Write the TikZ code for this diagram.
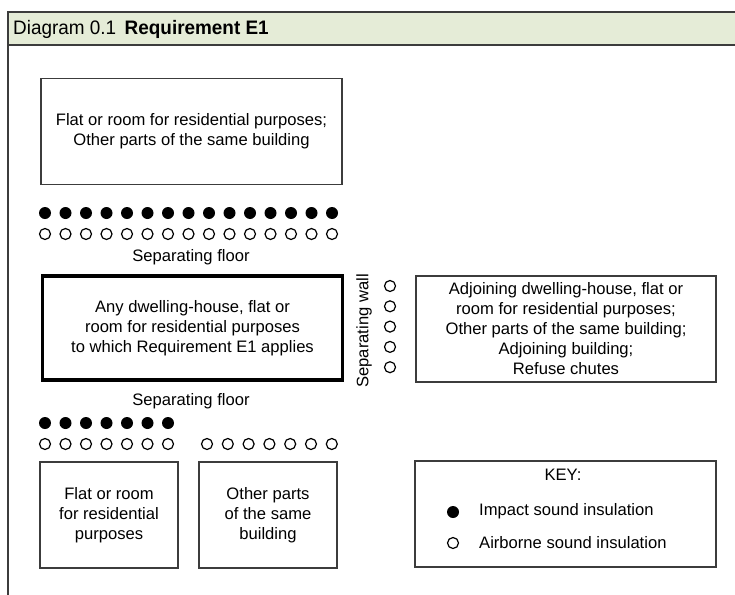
\documentclass[tikz,border=0pt]{standalone}
\usepackage{fontspec}
\setmainfont{Liberation Sans}
\definecolor{bandfill}{RGB}{229,236,215}
\definecolor{rule}{RGB}{60,60,60}
\begin{document}
\begin{tikzpicture}[x=1pt,y=-1pt,
  txt/.style={font=\fontsize{16.6}{20}\selectfont, align=center, inner sep=0pt},
  room/.style={txt, draw=rule, line width=1.4pt, minimum width=#1, minimum height=106pt},
  mainroom/.style={txt, draw=black, line width=3.6pt, minimum width=300pt, minimum height=104pt},
  impact/.style={circle, fill=black, inner sep=0pt, minimum size=12pt},
  airborne/.style={circle, draw=black, line width=1.2pt, fill=white, inner sep=0pt, minimum size=11pt}
]
\useasboundingbox (0,0) rectangle (735,594);

% title band and frame
\fill[white] (0,0) rectangle (735,594);
\draw[rule, line width=1.3pt, fill=bandfill] (8,12) rectangle (745,45);
\draw[rule, line width=1.3pt] (8,45) -- (8,600);
\node[anchor=west, inner sep=0pt, xscale=0.97, font=\fontsize{19.5}{22}\selectfont] (title) at (13,29)
  {Diagram 0.1\hspace{0.45em}\textbf{Requirement E1}};

% rooms
\node[room=301pt] (upper) at (191.5,131.5)
  {Flat or room for residential purposes;\\Other parts of the same building};
\node[mainroom] (main) at (192.5,328)
  {Any dwelling-house, flat or\\room for residential purposes\\to which Requirement E1 applies};
\node[room=300pt] (adjoin) at (566,329)
  {Adjoining dwelling-house, flat or\\room for residential purposes;\\Other parts of the same building;\\Adjoining building;\\Refuse chutes};
\node[room=138pt] (lowflat) at (109,515)
  {Flat or room\\for residential\\purposes};
\node[room=138pt] (lowother) at (268,515)
  {Other parts\\of the same\\building};

% separating floor above
\foreach \i in {0,...,14} {
  \node[impact] (ti\i) at (45+20.5*\i,213) {};
  \node[airborne] (ta\i) at (45+20.5*\i,234) {};
}
\node[txt] (floorA) at (191,257) {Separating floor};

% separating wall
\node[txt, rotate=90] (wall) at (364,331) {Separating wall};
\foreach \i in {0,...,4} {
  \node[airborne] (wa\i) at (390,286+20.3*\i) {};
}

% separating floor below
\node[txt] (floorB) at (191,401) {Separating floor};
\foreach \i in {0,...,6} {
  \node[impact] (bi\i) at (45+20.5*\i,423) {};
  \node[airborne] (ba\i) at (45+20.5*\i,444) {};
  \node[airborne] (bb\i) at (207+20.8*\i,444) {};
}

% key
\node[room=301pt] (key) at (565.5,514) {};
\node[txt] (keyhead) at (563,475) {KEY:};
\node[impact] (keyimp) at (453,512) {};
\node[txt, anchor=west] (keyimptxt) at (479,511) {Impact sound insulation};
\node[airborne] (keyair) at (453,543) {};
\node[txt, anchor=west] (keyairtxt) at (479,543) {Airborne sound insulation};
\end{tikzpicture}
\end{document}
